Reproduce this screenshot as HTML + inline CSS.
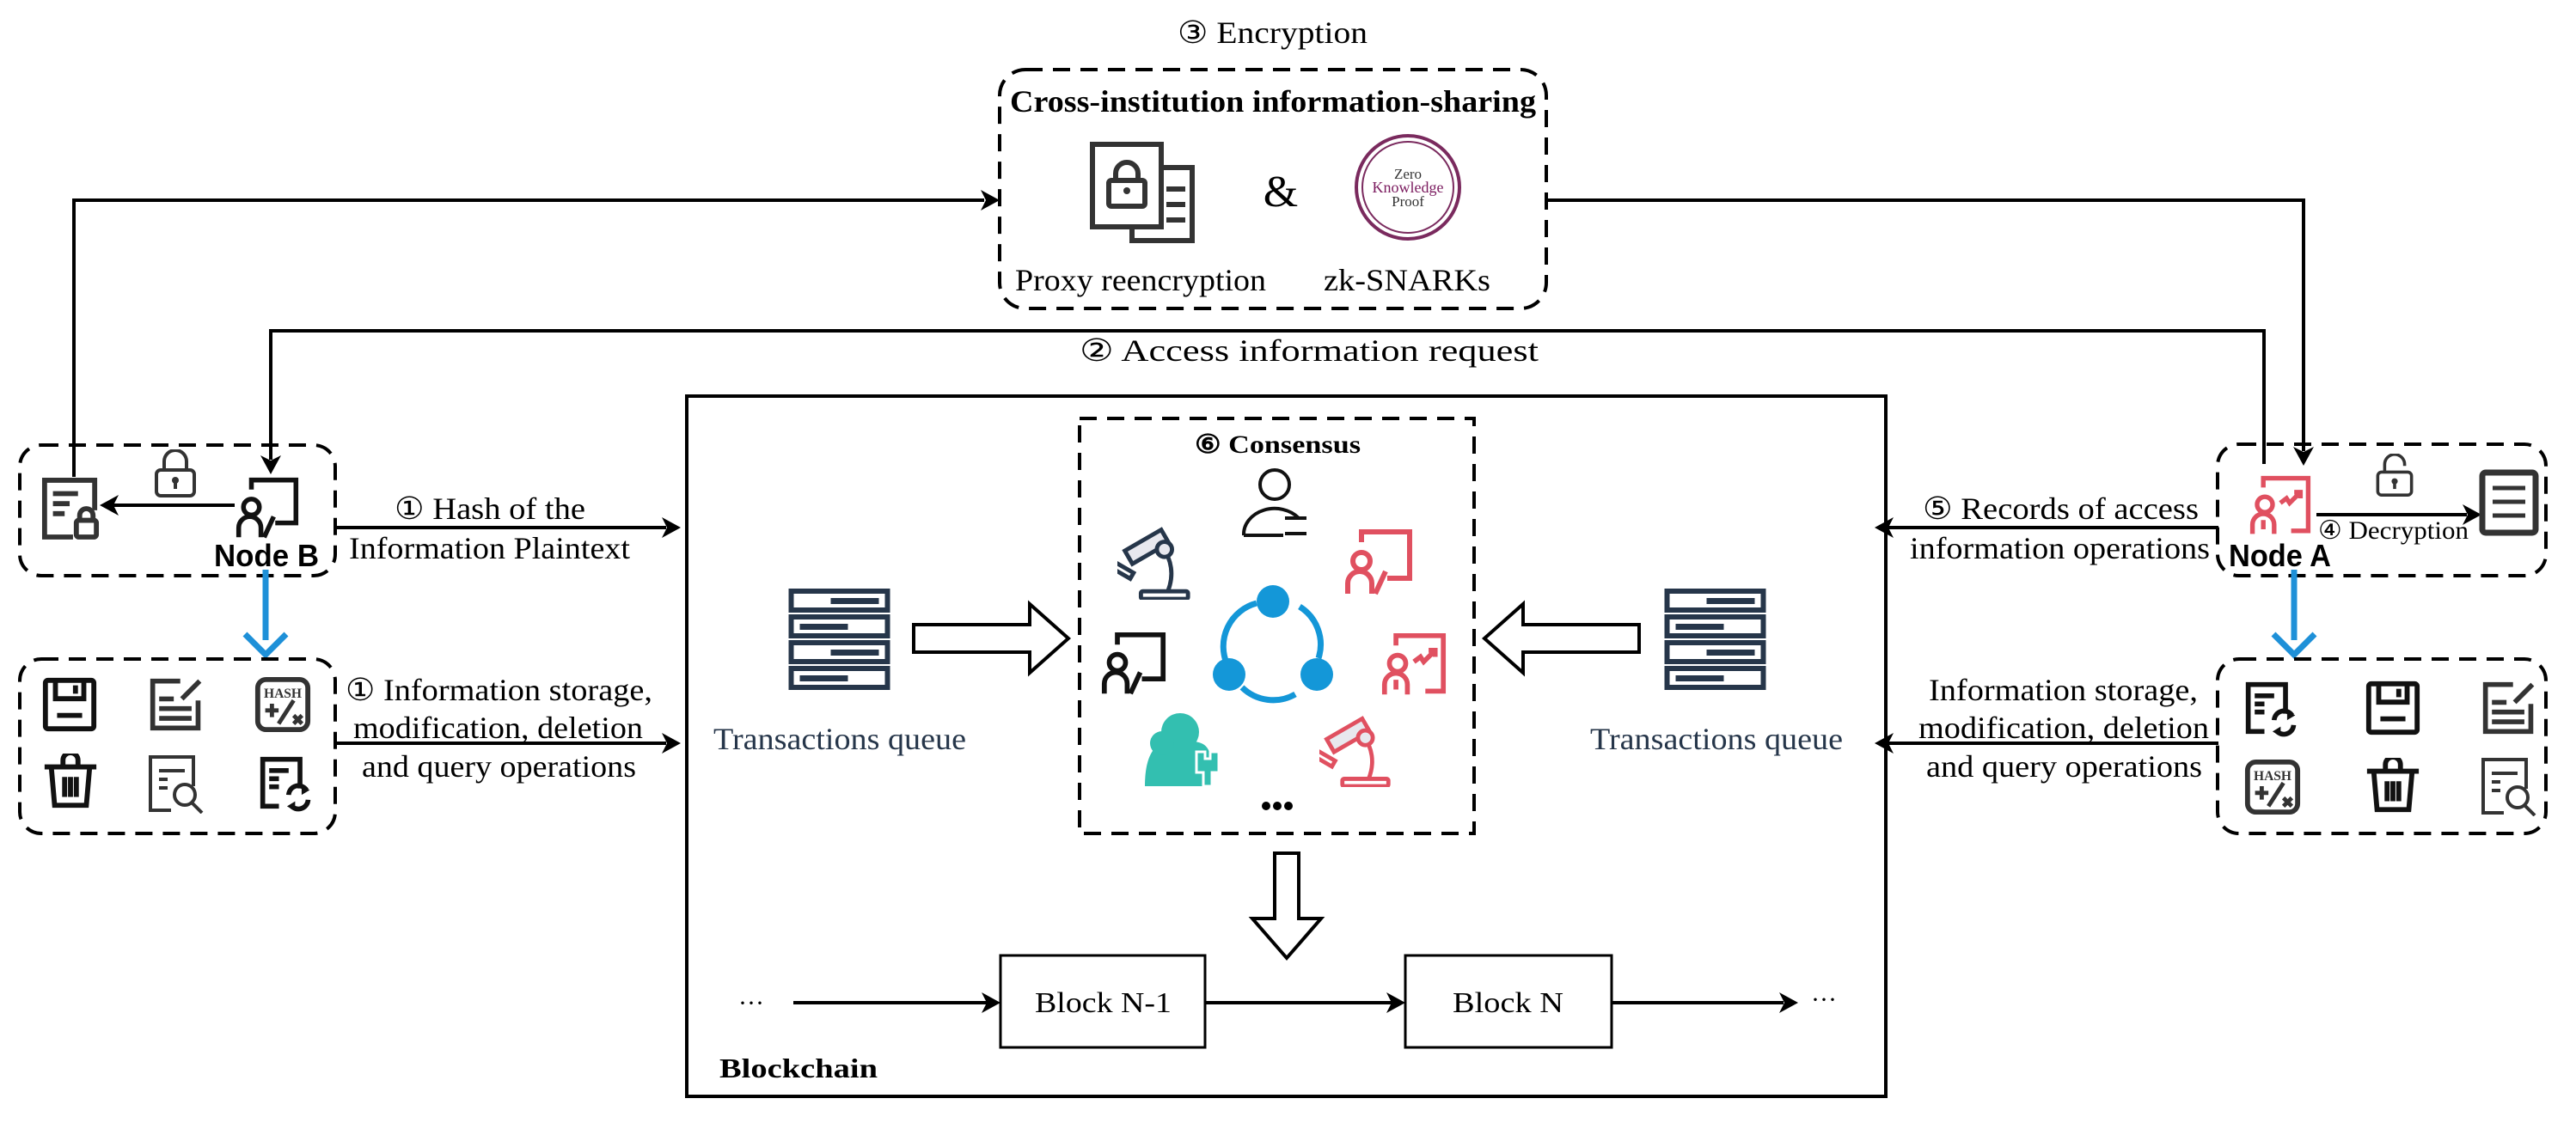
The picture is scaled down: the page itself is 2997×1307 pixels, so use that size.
<!DOCTYPE html>
<html><head><meta charset="utf-8"><style>
html,body{margin:0;padding:0;background:#fff;}
svg{display:block;}
text{font-family:"Liberation Serif",serif;}
.s{font-family:"Liberation Sans",sans-serif;font-weight:bold;}
</style></head><body>
<svg width="2997" height="1307" viewBox="0 0 2997 1307" xmlns="http://www.w3.org/2000/svg">
<defs>
<symbol id="floppy" viewBox="0 0 70 70"><g fill="none" stroke="#111" stroke-width="6"><rect x="6" y="6" width="58" height="58" rx="3"/><path d="M18 6v22h34V6"/><path d="M42 12v10"/><path d="M20 48h30"/></g></symbol>
<symbol id="edit" viewBox="0 0 70 70"><g fill="none" stroke="#333" stroke-width="6"><path d="M40 6H6v58h56V30"/><path d="M42 28L64 6"/><path d="M14 28h18M14 40h40M14 52h40"/></g></symbol>
<symbol id="hash" viewBox="0 0 70 70"><rect x="5" y="5" width="60" height="60" rx="10" fill="none" stroke="#333" stroke-width="6"/><text x="35" y="27" font-size="16" text-anchor="middle" font-family="Liberation Sans" font-weight="bold" fill="#333">HASH</text><path d="M14 42h16M22 34v16M30 58L48 30M48 48l10 10M58 48l-10 10" stroke="#333" stroke-width="5" fill="none"/></symbol>
<symbol id="trash" viewBox="0 0 70 70"><g fill="none" stroke="#111" stroke-width="6"><path d="M4 16h62"/><path d="M26 16V8a9 9 0 0 1 18 0v8"/><path d="M12 16l4 46h38l4-46"/><path d="M28 28v24M35 28v24M42 28v24"/></g></symbol>
<symbol id="search" viewBox="0 0 70 70"><g fill="none" stroke="#333" stroke-width="4"><path d="M54 38V4H4v62h24"/><path d="M14 20h30M14 30h10M14 40h10"/><circle cx="44" cy="48" r="12"/><path d="M52 57l12 12"/></g></symbol>
<symbol id="refresh" viewBox="0 0 70 70"><g fill="none" stroke="#111" stroke-width="6"><path d="M26 64H6V6h46v36"/><path d="M14 20h24M14 30h12M14 40h12"/><path d="M38 50a12 12 0 0 1 22-6M62 56a12 12 0 0 1-22 6"/></g><path d="M54 38l10 6-10 6zM46 70l-10-6 10-6z" fill="#111"/></symbol>
<symbol id="server" viewBox="0 0 120 120"><g fill="none" stroke="#26364a" stroke-width="6"><rect x="4" y="4" width="112" height="22"/><rect x="4" y="34" width="112" height="22"/><rect x="4" y="64" width="112" height="22"/><rect x="4" y="94" width="112" height="22"/></g><g fill="#26364a"><rect x="50" y="12" width="56" height="7"/><rect x="14" y="42" width="56" height="7"/><rect x="50" y="72" width="56" height="7"/><rect x="14" y="102" width="56" height="7"/></g></symbol>
<symbol id="teach" viewBox="0 0 80 80"><g fill="none" stroke-width="6"><path d="M20 16V4h56v54H50"/><circle cx="20" cy="38" r="10"/><path d="M4 76V64a14 14 0 0 1 28 0v12"/><path d="M36 76l12-26"/></g></symbol>
<symbol id="chart" viewBox="0 0 80 80"><g fill="none" stroke-width="6"><path d="M18 16V4h58v68H54"/><circle cx="20" cy="38" r="10"/><path d="M4 76V64a14 14 0 0 1 28 0v12M18 58v12"/><path d="M40 36l8-6 4 6 14-14M58 22h8v8"/></g></symbol>
<symbol id="micro" viewBox="0 0 90 90"><g fill="none" stroke-width="5"><rect x="28" y="80" width="56" height="9" rx="2"/><path d="M60 80c8-20 4-38-6-52"/><rect x="10" y="18" width="50" height="18" transform="rotate(-30 35 27)" fill="#e8e8ee"/><rect x="2" y="42" width="8" height="26" transform="rotate(-60 6 55)"/><circle cx="56" cy="30" r="9" fill="#e8e8ee"/></g></symbol>
<symbol id="doclock" viewBox="0 0 70 75"><g fill="none" stroke="#333" stroke-width="6"><path d="M38 72H4V4h60v36"/><path d="M14 20h30M14 32h20M14 44h14"/><rect x="42" y="52" width="24" height="20" rx="3"/><path d="M46 52v-6a8 8 0 0 1 16 0v6"/></g></symbol>
<symbol id="lock" viewBox="0 0 50 56"><g fill="none" stroke="#333" stroke-width="4"><rect x="3" y="24" width="44" height="30" rx="5"/><path d="M12 24V14a13 13 0 0 1 26 0v10"/></g><circle cx="25" cy="36" r="4" fill="#333"/><path d="M25 38v8" stroke="#333" stroke-width="4"/></symbol>
<symbol id="lockopen" viewBox="0 0 50 56"><g fill="none" stroke="#333" stroke-width="4"><rect x="3" y="24" width="44" height="30" rx="5"/><path d="M12 24V14a13 13 0 0 1 26 0v2"/></g><circle cx="25" cy="36" r="4" fill="#333"/><path d="M25 38v8" stroke="#333" stroke-width="4"/></symbol>
</defs>

<text x="1370" y="50" font-size="36" textLength="221" lengthAdjust="spacingAndGlyphs">③ Encryption</text>
<rect x="1163" y="81" width="636" height="278" rx="30" fill="none" stroke="#000" stroke-width="4" stroke-dasharray="20 12"/>
<text x="1175" y="130" font-size="36" font-weight="bold" textLength="612" lengthAdjust="spacingAndGlyphs">Cross-institution information-sharing</text>
<g fill="none" stroke="#333" stroke-width="6"><rect x="1271" y="168" width="80" height="96" fill="#fff"/><path d="M1351 195h36v85h-70v-16"/><path d="M1357 220h22M1357 238h22M1357 256h22"/><rect x="1290" y="210" width="42" height="30" rx="3"/><path d="M1298 210v-8a13 13 0 0 1 26 0v8"/></g>
<circle cx="1311" cy="222" r="4" fill="#333"/>
<text x="1490" y="240" font-size="52" text-anchor="middle">&amp;</text>
<circle cx="1638" cy="218" r="60" fill="#fff" stroke="#7a2a5e" stroke-width="4"/>
<circle cx="1638" cy="218" r="53" fill="none" stroke="#7a2a5e" stroke-width="2"/>
<text x="1638" y="208" font-size="17" text-anchor="middle" font-family="Liberation Sans" fill="#333">Zero</text>
<text x="1638" y="224" font-size="18" text-anchor="middle" font-family="Liberation Sans" fill="#7a1a5e">Knowledge</text>
<text x="1638" y="240" font-size="17" text-anchor="middle" font-family="Liberation Sans" fill="#333">Proof</text>
<text x="1181" y="338" font-size="36" textLength="292" lengthAdjust="spacingAndGlyphs">Proxy reencryption</text>
<text x="1540" y="338" font-size="36" textLength="194" lengthAdjust="spacingAndGlyphs">zk-SNARKs</text>

<g stroke="#000" stroke-width="4" fill="none">
<path d="M86 555V233H1145"/>
<path d="M1799 233H2680V525"/>
<path d="M2634 540V385H315V535"/>
<path d="M273 588H130"/>
<path d="M392 614H775"/>
<path d="M392 865H775"/>
<path d="M2581 614H2197"/>
<path d="M2581 865H2197"/>
<path d="M2695 599H2870"/>
<path d="M923 1167H1150"/>
<path d="M1402 1167H1620"/>
<path d="M1875 1167H2075"/>
</g>
<g fill="#000">
<path d="M1163 233l-22-12 6 12-6 12z"/>
<path d="M2680 542l-12-22 12 6 12-6z"/>
<path d="M315 552l-12-22 12 6 12-6z"/>
<path d="M116 588l22-12-6 12 6 12z"/>
<path d="M792 614l-22-12 6 12-6 12z"/>
<path d="M792 865l-22-12 6 12-6 12z"/>
<path d="M2181 614l22-12-6 12 6 12z"/>
<path d="M2181 865l22-12-6 12 6 12z"/>
<path d="M2887 599l-22-12 6 12-6 12z"/>
<path d="M1164 1167l-22-12 6 12-6 12z"/>
<path d="M1635 1167l-22-12 6 12-6 12z"/>
<path d="M2092 1167l-22-12 6 12-6 12z"/>
</g>
<text x="1256" y="420" font-size="36" textLength="534" lengthAdjust="spacingAndGlyphs">② Access information request</text>

<rect x="799" y="461" width="1395" height="815" fill="none" stroke="#000" stroke-width="4"/>
<rect x="1256" y="487" width="459" height="483" fill="none" stroke="#000" stroke-width="4" stroke-dasharray="20 12"/>
<text x="1390" y="527" font-size="30" font-weight="bold" textLength="193" lengthAdjust="spacingAndGlyphs">⑥ Consensus</text>

<g fill="none" stroke="#111" stroke-width="4"><circle cx="1483" cy="564" r="17"/><path d="M1447 623a36 30 0 0 1 64-20"/><path d="M1447 623h46"/><path d="M1495 603h25M1495 621h25"/></g>
<use href="#micro" x="1300" y="610" width="88" height="88" stroke="#26364a"/>
<use href="#teach" x="1562" y="615" width="84" height="80" stroke="#e05060"/>
<use href="#teach" x="1278" y="735" width="82" height="76" stroke="#111"/>
<use href="#chart" x="1603" y="736" width="84" height="76" stroke="#e05060"/>
<use href="#micro" x="1535" y="830" width="86" height="86" stroke="#e05060"/>
<g fill="#1497d8" stroke="none"><circle cx="1481" cy="700" r="19"/><circle cx="1430" cy="785" r="19"/><circle cx="1532" cy="785" r="19"/></g>
<g fill="none" stroke="#1497d8" stroke-width="7"><path d="M1462 702a52 52 0 0 0-34 72"/><path d="M1512 706a52 52 0 0 1 22 60"/><path d="M1445 800a52 52 0 0 0 62 8"/></g>
<g fill="#33bfb0"><circle cx="1373" cy="852" r="22"/><path d="M1332 915c0-40 14-52 30-52h24c14 0 20 6 22 16v36z"/><circle cx="1352" cy="865" r="14"/></g>
<g fill="#33bfb0" stroke="#fff" stroke-width="3"><path d="M1392 875h10v8h6v-8h10v24h-8v16h-10v-16h-8z"/></g>
<g fill="#000"><circle cx="1473" cy="938" r="5"/><circle cx="1486" cy="938" r="5"/><circle cx="1499" cy="938" r="5"/></g>

<use href="#server" x="916" y="684" width="121" height="120"/>
<use href="#server" x="1935" y="684" width="121" height="120"/>
<text x="830" y="872" font-size="36" fill="#26364a" textLength="294" lengthAdjust="spacingAndGlyphs">Transactions queue</text>
<text x="1850" y="872" font-size="36" fill="#26364a" textLength="294" lengthAdjust="spacingAndGlyphs">Transactions queue</text>
<g fill="#fff" stroke="#000" stroke-width="4">
<path d="M1063 727H1198V703L1243 743L1198 783V759H1063Z"/>
<path d="M1907 727H1772V703L1727 743L1772 783V759H1907Z"/>
<path d="M1483 993H1511V1069H1537L1497 1115L1457 1069H1483Z"/>
</g>
<rect x="1164" y="1112" width="238" height="107" fill="none" stroke="#000" stroke-width="3"/>
<rect x="1635" y="1112" width="240" height="107" fill="none" stroke="#000" stroke-width="3"/>
<text x="1204" y="1178" font-size="34" textLength="159" lengthAdjust="spacingAndGlyphs">Block N-1</text>
<text x="1690" y="1178" font-size="34" textLength="129" lengthAdjust="spacingAndGlyphs">Block N</text>
<text x="874" y="1177" font-size="30" text-anchor="middle">···</text>
<text x="2122" y="1173" font-size="30" text-anchor="middle">···</text>
<text x="837" y="1254" font-size="32" font-weight="bold" textLength="184" lengthAdjust="spacingAndGlyphs">Blockchain</text>

<rect x="23" y="518" width="367" height="152" rx="25" fill="none" stroke="#000" stroke-width="4" stroke-dasharray="20 12"/>
<use href="#doclock" x="48" y="555" width="68" height="73"/>
<use href="#lock" x="179" y="523" width="50" height="56"/>
<use href="#teach" x="270" y="555" width="82" height="74" stroke="#111"/>
<text class="s" x="249" y="659" font-size="36" textLength="122" lengthAdjust="spacingAndGlyphs">Node B</text>
<path d="M309 663V745" stroke="#1e90d8" stroke-width="7"/>
<path d="M285 738l24 24 24-24" fill="none" stroke="#1e90d8" stroke-width="7"/>
<rect x="23" y="767" width="367" height="203" rx="25" fill="none" stroke="#000" stroke-width="4" stroke-dasharray="20 12"/>
<use href="#floppy" x="47" y="786" width="68" height="68"/>
<use href="#edit" x="172" y="786" width="66" height="68"/>
<use href="#hash" x="295" y="786" width="68" height="68"/>
<use href="#trash" x="48" y="877" width="68" height="68"/>
<use href="#search" x="170" y="877" width="72" height="70"/>
<use href="#refresh" x="300" y="877" width="66" height="68"/>
<text x="459" y="604" font-size="36" textLength="222" lengthAdjust="spacingAndGlyphs">① Hash of the</text>
<text x="406" y="650" font-size="36" textLength="327" lengthAdjust="spacingAndGlyphs">Information Plaintext</text>
<text x="402" y="815" font-size="36" textLength="357" lengthAdjust="spacingAndGlyphs">① Information storage,</text>
<text x="411" y="859" font-size="36" textLength="337" lengthAdjust="spacingAndGlyphs">modification, deletion</text>
<text x="421" y="904" font-size="36" textLength="319" lengthAdjust="spacingAndGlyphs">and query operations</text>

<rect x="2580" y="517" width="382" height="153" rx="25" fill="none" stroke="#000" stroke-width="4" stroke-dasharray="20 12"/>
<use href="#chart" x="2613" y="553" width="80" height="72" stroke="#e05060"/>
<use href="#lockopen" x="2762" y="528" width="48" height="50"/>
<g><rect x="2888" y="550" width="62" height="70" rx="4" fill="none" stroke="#333" stroke-width="7"/><path d="M2900 568h38M2900 584h38M2900 600h38" stroke="#333" stroke-width="5"/></g>
<text x="2697" y="627" font-size="30" textLength="175" lengthAdjust="spacingAndGlyphs">④ Decryption</text>
<text class="s" x="2593" y="659" font-size="36" textLength="119" lengthAdjust="spacingAndGlyphs">Node A</text>
<path d="M2669 663V745" stroke="#1e90d8" stroke-width="7"/>
<path d="M2645 738l24 24 24-24" fill="none" stroke="#1e90d8" stroke-width="7"/>
<rect x="2580" y="767" width="382" height="203" rx="25" fill="none" stroke="#000" stroke-width="4" stroke-dasharray="20 12"/>
<use href="#refresh" x="2610" y="790" width="66" height="68"/>
<use href="#floppy" x="2750" y="790" width="68" height="68"/>
<use href="#edit" x="2886" y="790" width="66" height="68"/>
<use href="#hash" x="2610" y="882" width="68" height="68"/>
<use href="#trash" x="2750" y="882" width="68" height="68"/>
<use href="#search" x="2884" y="880" width="72" height="70"/>
<text x="2237" y="604" font-size="36" textLength="321" lengthAdjust="spacingAndGlyphs">⑤ Records of access</text>
<text x="2222" y="650" font-size="36" textLength="349" lengthAdjust="spacingAndGlyphs">information operations</text>
<text x="2244" y="815" font-size="36" textLength="313" lengthAdjust="spacingAndGlyphs">Information storage,</text>
<text x="2232" y="859" font-size="36" textLength="338" lengthAdjust="spacingAndGlyphs">modification, deletion</text>
<text x="2241" y="904" font-size="36" textLength="321" lengthAdjust="spacingAndGlyphs">and query operations</text>
</svg>
</body></html>
